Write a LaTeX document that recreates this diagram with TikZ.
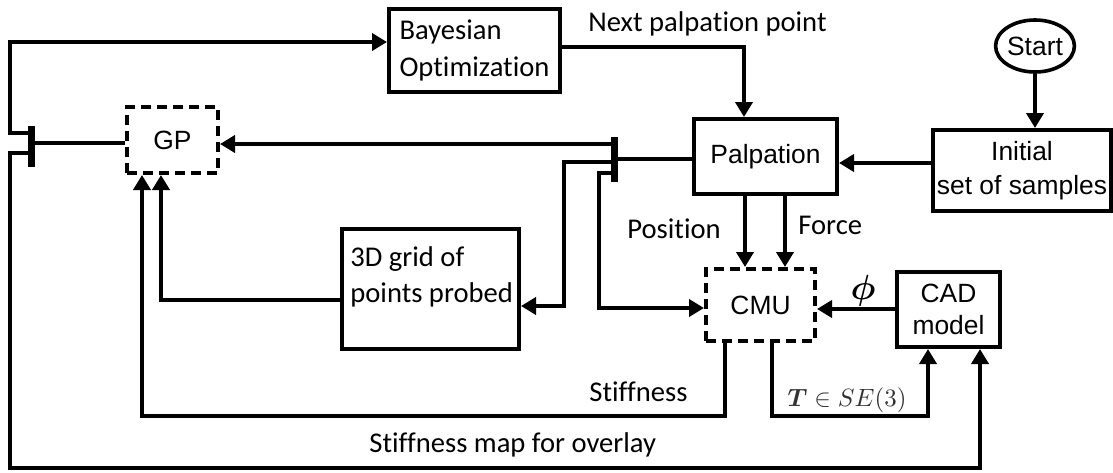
\documentclass[tikz,border=0pt]{standalone}
\usepackage{amsmath}
\usepackage{fontspec}
\setmainfont{Liberation Sans}
\newfontfamily\calib[Ligatures=NoCommon]{Carlito}
\usetikzlibrary{arrows.meta,calc,shapes.geometric}
\tikzset{
  box/.style={draw, line width=2pt, inner sep=0pt, align=center,
    font=\fontsize{13.2}{16.5}\selectfont},
  dbox/.style={box, dash pattern=on 5pt off 3pt},
  ln/.style={line width=2pt},
  arr/.style={line width=2pt, -{Triangle[length=7.5pt,width=8.5pt]}},
  barst/.style={line width=3.5pt},
  lbl/.style={inner sep=0pt, font=\calib\fontsize{14.3}{18}\selectfont},
  mlbl/.style={inner sep=0pt, font=\normalsize}
}
\begin{document}
\begin{tikzpicture}[x=0.5pt,y=-0.5pt]
\useasboundingbox (0,0) rectangle (1113,472);

% nodes
\node[box, minimum width=85.5pt, minimum height=41.5pt, align=left,
      font=\calib\fontsize{14.3}{18.5}\selectfont] (bayes) at (474.5,50.5) {Bayesian\\Optimization};
\node[dbox, minimum width=45.5pt, minimum height=33pt] (gp) at (172.5,140) {GP};
\node[box, minimum width=71.5pt, minimum height=37.5pt] (palp) at (765.5,156.5) {Palpation};
\node[box, minimum width=89pt, minimum height=40.5pt,
      font=\fontsize{13.2}{17}\selectfont] (init) at (1022,170.5) {Initial\\set of samples};
\node[draw, ellipse, line width=1.8pt, minimum width=37.5pt, minimum height=26pt, inner sep=0pt,
      font=\fontsize{13.2}{16}\selectfont] (start) at (1035,46) {Start};
\node[box, minimum width=88.5pt, minimum height=60pt] (grid) at (430.5,289) {};
\node[lbl, anchor=west, align=left, font=\calib\fontsize{14.3}{18}\selectfont] (gridtxt) at (350,277) {3D grid of\\points probed};
\node[dbox, minimum width=54.5pt, minimum height=36pt] (cmu) at (760.5,305) {CMU};
\node[box, minimum width=51.5pt, minimum height=37.5pt,
      font=\fontsize{13.2}{16}\selectfont] (cad) at (948.5,309.5) {CAD\\model};

% junctions
\coordinate (jL) at (31,143);
\coordinate (jR) at (614,159);
\draw[barst] ($(jL)+(0,-17)$) -- ($(jL)+(0,24)$);
\draw[barst] ($(jR)+(0,-22)$) -- ($(jR)+(0,23)$);

% connectors
\draw[ln] (palp.west |- jR) -- (jR);
\draw[arr] ($(jR)+(0,-15)$) coordinate (t1) -- (t1 -| gp.east);
\draw[arr] ($(jR)+(0,3)$) -| (564,306) -- (grid.east |- 0,306);
\draw[arr] ($(jR)+(0,14)$) -| (599,308) -- (cmu.west |- 0,308);
\draw[ln] (gp.west |- jL) -- (jL);
\draw[arr] ($(jL)+(0,-10)$) -| (10,42) -- (bayes.west |- 0,42);
\draw[arr] ($(jL)+(0,10)$) -| (10,468) -| ($(cad.south)+(31.5,0)$);
\draw[arr] (bayes.east |- 0,47) -| ($(palp.north)+(-21.5,0)$);
\draw[arr] (start.south) -- (start.south |- init.north);
\draw[arr] (init.west |- 0,163) -- (palp.east |- 0,163);
\draw[arr] ($(palp.south)+(-20.5,0)$) coordinate (pp) -- (pp |- cmu.north);
\draw[arr] ($(palp.south)+(19.5,0)$) coordinate (pf) -- (pf |- cmu.north);
\draw[arr] (cad.west |- 0,309) -- (cmu.east |- 0,309);
\draw[arr] ($(cmu.south)+(-35.5,0)$) |- (142,416) -- ($(gp.south)+(-30.5,0)$);
\draw[arr] ($(cmu.south)+(11.5,0)$) |- (928,416) -- ($(cad.south)+(-20.5,0)$);
\draw[arr] (grid.west |- 0,300) -| ($(gp.south)+(-11.5,0)$);

% labels
\node[lbl, anchor=base west] (lnext) at (588,31) {Next palpation point};
\node[lbl, anchor=base west] (lpos) at (627,238) {Position};
\node[lbl, anchor=base west] (lforce) at (798,234) {Force};
\node[lbl, anchor=base west] (lstiff) at (589,401) {Stiffness};
\node[lbl, anchor=base west] (lmap) at (369,452) {Stiffness map for overlay};
\node[mlbl, anchor=base west, text=black!80, scale=1.25] (lT) at (787,406) {$\boldsymbol{T}\in SE(3)$};
\node[mlbl, scale=1.75] (lphi) at (863,291) {$\boldsymbol{\phi}$};
\end{tikzpicture}
\end{document}
